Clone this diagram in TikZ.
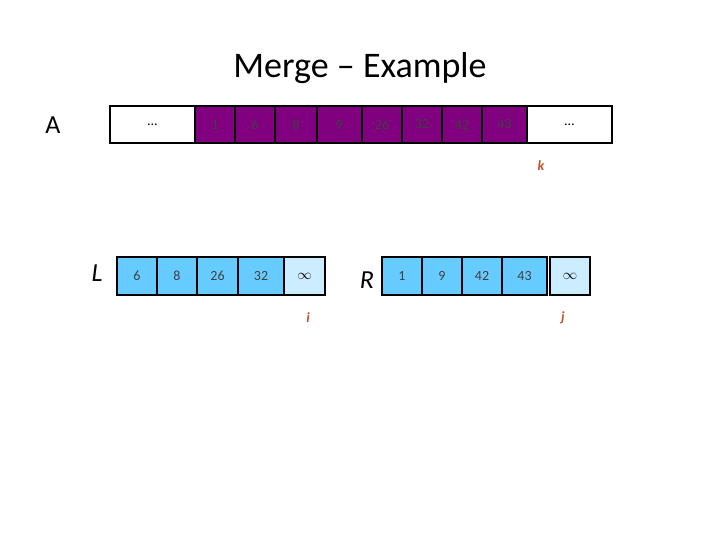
\documentclass[tikz,border=0pt]{standalone}
\usepackage{fontspec}
\setmainfont{Carlito}
\begin{document}
\begin{tikzpicture}[x=1pt,y=-1pt,
 pc/.style={draw=black,line width=2pt,fill=purple!50!black!60!magenta,fill=violet,minimum height=37pt,inner sep=0pt,font=\fontsize{14}{14}\selectfont,text=black!75},
 wc/.style={draw=black,line width=2pt,fill=white,minimum height=37pt,inner sep=0pt,font=\fontsize{14}{14}\selectfont},
 bc/.style={draw=black,line width=2pt,fill=cyan!55!blue!40,minimum height=38pt,inner sep=0pt,font=\fontsize{14}{14}\selectfont,text=black!75},
 lc/.style={draw=black,line width=2pt,fill=cyan!20,minimum height=38pt,inner sep=0pt,font=\fontsize{14}{14}\selectfont},
 ptr/.style={text=orange!70!red,font=\fontsize{14}{14}\selectfont\bfseries\itshape}]
\definecolor{mpurple}{RGB}{128,0,128}
\definecolor{lblue}{RGB}{102,204,255}
\definecolor{vlblue}{RGB}{204,236,255}
\definecolor{ptrc}{RGB}{192,80,40}
\tikzset{pc/.append style={fill=mpurple},bc/.append style={fill=lblue},lc/.append style={fill=vlblue},ptr/.append style={text=ptrc}}
\useasboundingbox (0,0) rectangle (720,540);
\node (title) at (360,68) {\fontsize{36}{36}\selectfont Merge -- Example};
\node (A) at (53,125) {\fontsize{26}{26}\selectfont A};
\node[wc,minimum width=85pt] (a0) at (152.5,124.5) {\ldots};
\node[wc,minimum width=85pt] (a9) at (569.5,124.5) {\ldots};
\node[pc,minimum width=40pt] (a1) at (215,124.5) {1};
\node[pc,minimum width=40pt] (a2) at (255,124.5) {6};
\node[pc,minimum width=42pt] (a3) at (296,124.5) {8};
\node[pc,minimum width=45pt] (a4) at (339.5,124.5) {9};
\node[pc,minimum width=40pt] (a5) at (382,124.5) {26};
\node[pc,minimum width=40pt] (a6) at (422,124.5) {32};
\node[pc,minimum width=40pt] (a7) at (462,124.5) {42};
\node[pc,minimum width=45pt] (a8) at (504.5,124.5) {43};
\node[ptr] (k) at (541,166) {k};
\node (L) at (97,273) {\fontsize{26}{26}\selectfont\itshape L};
\node[bc,minimum width=40pt] (l1) at (137,276) {6};
\node[bc,minimum width=40pt] (l2) at (177,276) {8};
\node[bc,minimum width=41pt] (l3) at (217.5,276) {26};
\node[bc,minimum width=46pt] (l4) at (261,276) {32};
\node[lc,minimum width=41pt] (l5) at (304.5,276) {\textbf{$\infty$}};
\node[ptr] (i) at (308,318) {i};
\node (R) at (367,280) {\fontsize{26}{26}\selectfont\itshape R};
\node[bc,minimum width=40pt] (r1) at (402,276) {1};
\node[bc,minimum width=40pt] (r2) at (442,276) {9};
\node[bc,minimum width=40pt] (r3) at (482,276) {42};
\node[bc,minimum width=45pt] (r4) at (524.5,276) {43};
\node[lc,minimum width=40pt] (r5) at (570,276) {\textbf{$\infty$}};
\node[ptr] (j) at (563,318) {j};
\end{tikzpicture}
\end{document}
